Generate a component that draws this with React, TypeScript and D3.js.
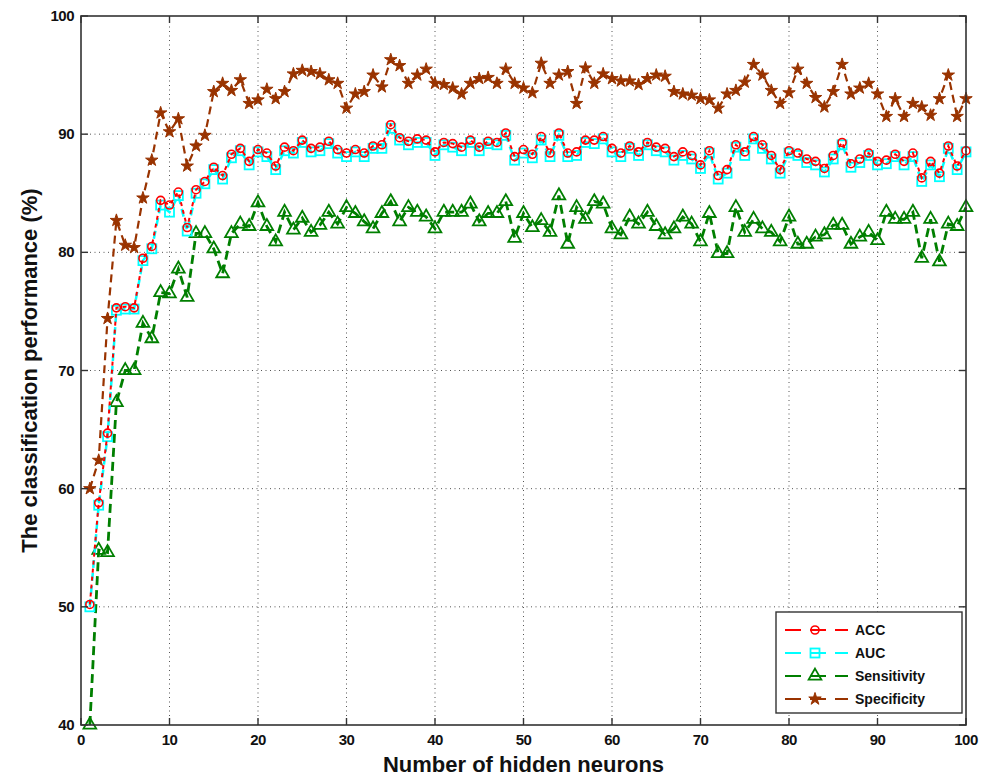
import React from 'react';
import * as d3 from 'd3';

const neurons = d3.range(1, 101);

const accValues = [
  50.2, 58.8, 64.7, 75.3, 75.4, 75.3, 79.5, 80.5, 84.4, 84.0,
  85.1, 82.1, 85.3, 86.0, 87.2, 86.5, 88.3, 88.8, 87.7, 88.7,
  88.4, 87.3, 88.9, 88.6, 89.5, 88.8, 88.9, 89.4, 88.7, 88.4,
  88.7, 88.4, 89.0, 89.1, 90.8, 89.7, 89.4, 89.6, 89.5, 88.5,
  89.3, 89.2, 88.9, 89.5, 88.9, 89.4, 89.3, 90.1, 88.1, 88.7,
  88.3, 89.8, 88.4, 90.1, 88.4, 88.5, 89.5, 89.5, 89.8, 88.8,
  88.4, 89.0, 88.5, 89.3, 88.9, 88.8, 88.1, 88.5, 88.2, 87.4,
  88.6, 86.5, 87.0, 89.1, 88.5, 89.8, 89.1, 88.2, 87.0, 88.6,
  88.4, 87.9, 87.7, 87.1, 88.2, 89.3, 87.5, 87.9, 88.4, 87.7,
  87.8, 88.3, 87.7, 88.4, 86.3, 87.7, 86.7, 89.0, 87.3, 88.6,
];

const aucValues = [
  50.0, 58.6, 64.4, 75.1, 75.2, 75.2, 79.3, 80.3, 84.0, 83.4,
  84.8, 81.8, 85.0, 85.8, 87.0, 86.2, 88.0, 88.6, 87.4, 88.5,
  88.1, 87.0, 88.6, 88.4, 89.3, 88.5, 88.6, 89.2, 88.4, 88.1,
  88.5, 88.1, 88.8, 88.8, 90.5, 89.5, 89.1, 89.3, 89.3, 88.2,
  89.1, 88.9, 88.6, 89.3, 88.6, 89.2, 89.1, 89.9, 87.8, 88.4,
  88.0, 89.5, 88.1, 89.9, 88.1, 88.2, 89.3, 89.2, 89.6, 88.5,
  88.1, 88.8, 88.2, 89.1, 88.6, 88.5, 87.8, 88.2, 87.9, 87.1,
  88.4, 86.2, 86.7, 88.9, 88.2, 89.6, 88.8, 87.9, 86.7, 88.4,
  88.2, 87.6, 87.4, 86.8, 87.9, 89.1, 87.2, 87.6, 88.2, 87.4,
  87.5, 88.1, 87.4, 88.1, 86.0, 87.4, 86.4, 88.8, 87.0, 88.5,
];

const sensitivityValues = [
  40.0, 54.8, 54.6, 67.3, 70.0, 70.0, 74.0, 72.7, 76.6, 76.5,
  78.6, 76.2, 81.6, 81.6, 80.3, 78.2, 81.6, 82.4, 82.2, 84.2,
  82.2, 80.9, 83.4, 81.9, 82.9, 81.7, 82.3, 83.4, 82.4, 83.8,
  83.3, 82.6, 82.0, 83.3, 84.3, 82.6, 83.8, 83.4, 83.0, 82.0,
  83.4, 83.4, 83.4, 84.1, 82.6, 83.3, 83.3, 84.3, 81.2, 83.3,
  82.1, 82.7, 81.7, 84.8, 80.7, 83.8, 82.8, 84.3, 84.1, 82.0,
  81.5, 83.0, 82.4, 83.4, 82.2, 81.5, 82.0, 83.0, 82.4, 80.9,
  83.3, 79.9, 79.9, 83.8, 81.7, 82.8, 82.0, 81.7, 80.9, 83.0,
  80.7, 80.7, 81.3, 81.5, 82.3, 82.3, 80.7, 81.3, 81.7, 81.0,
  83.4, 82.8, 82.8, 83.4, 79.5, 82.8, 79.2, 82.4, 82.2, 83.8,
];

const specificityValues = [
  60.0, 62.4, 74.4, 82.7, 80.6, 80.4, 84.6, 87.8, 91.8, 90.2,
  91.3, 87.3, 89.0, 89.9, 93.6, 94.3, 93.7, 94.6, 92.6, 92.9,
  93.8, 93.0, 93.6, 95.1, 95.4, 95.3, 95.1, 94.6, 94.3, 92.2,
  93.4, 93.6, 95.0, 94.0, 96.3, 95.8, 94.3, 95.0, 95.5, 94.3,
  94.2, 93.9, 93.4, 94.3, 94.7, 94.8, 94.3, 95.5, 94.3, 93.9,
  93.5, 96.0, 94.3, 95.0, 95.3, 92.6, 95.6, 94.3, 95.1, 94.7,
  94.5, 94.5, 94.2, 94.7, 95.0, 94.9, 93.6, 93.4, 93.3, 93.0,
  92.9, 92.2, 93.4, 93.7, 94.4, 95.9, 95.0, 93.7, 92.6, 93.5,
  95.5, 94.3, 93.1, 92.3, 93.6, 95.9, 93.4, 93.9, 94.3, 93.4,
  91.5, 93.0, 91.5, 92.6, 92.3, 91.6, 93.0, 95.0, 91.5, 93.0,
];

const xTicks = [0, 10, 20, 30, 40, 50, 60, 70, 80, 90, 100];
const yTicks = [40, 50, 60, 70, 80, 90, 100];

const seriesNames = ['ACC', 'AUC', 'Sensitivity', 'Specificity'];

const W = 988;
const H = 778;
const margin = { top: 16, right: 22, bottom: 53, left: 81 };
const FONT = "'Liberation Sans', Arial, sans-serif";

type Series = {
  name: string;
  values: number[];
  color: string;
  width: number;
  dash: string;
  marker: 'circle' | 'square' | 'triangle' | 'star';
};

const series: Series[] = [
  { name: seriesNames[3], values: specificityValues, color: '#993300', width: 2.2, dash: '8,5', marker: 'star' },
  { name: seriesNames[2], values: sensitivityValues, color: '#007f00', width: 2.8, dash: '9,5', marker: 'triangle' },
  { name: seriesNames[1], values: aucValues, color: '#00ffff', width: 2.5, dash: '8,5', marker: 'square' },
  { name: seriesNames[0], values: accValues, color: '#ff0000', width: 2, dash: '4,4', marker: 'circle' },
];

const Marker = ({ type, x, y, color }: { type: Series['marker']; x: number; y: number; color: string }) => {
  if (type === 'circle') {
    return <circle cx={x} cy={y} r={4} fill="none" stroke={color} strokeWidth={1.6} />;
  }
  if (type === 'square') {
    return <rect x={x - 4.5} y={y - 4.5} width={9} height={9} fill="none" stroke={color} strokeWidth={1.8} />;
  }
  if (type === 'triangle') {
    const p = d3.symbol().type(d3.symbolTriangle).size(70)();
    return <path d={p || ''} transform={`translate(${x},${y})`} fill="none" stroke={color} strokeWidth={1.8} />;
  }
  const p = d3.symbol().type(d3.symbolStar).size(48)();
  return <path d={p || ''} transform={`translate(${x},${y})`} fill={color} stroke={color} strokeWidth={1} />;
};

export default function App() {
  const innerW = W - margin.left - margin.right;
  const innerH = H - margin.top - margin.bottom;

  const x = d3.scaleLinear().domain([0, 100]).range([margin.left, margin.left + innerW]);
  const y = d3.scaleLinear().domain([40, 100]).range([margin.top + innerH, margin.top]);

  const line = d3.line<number>()
    .x((_, i) => x(neurons[i]))
    .y(d => y(d));

  const x0 = x(0), x1 = x(100), y0 = y(40), y1 = y(100);

  const legendX = 776, legendY = 612, legendW = 186, legendH = 101;
  const legendOrder = [series[3], series[2], series[1], series[0]];

  return (
    <svg width={W} height={H} style={{ position: 'absolute', left: 0, top: 0, background: '#fff' }}>
      {/* grid */}
      <g stroke="#555" strokeWidth={1} strokeDasharray="1,3.5">
        {xTicks.slice(1, -1).map(t => (
          <line key={'gx' + t} x1={x(t)} x2={x(t)} y1={y0} y2={y1} />
        ))}
        {yTicks.slice(1, -1).map(t => (
          <line key={'gy' + t} x1={x0} x2={x1} y1={y(t)} y2={y(t)} />
        ))}
      </g>

      {/* series */}
      {series.map(s => (
        <g key={s.name}>
          <path d={line(s.values) || ''} fill="none" stroke={s.color} strokeWidth={s.width} strokeDasharray={s.dash} />
          {s.values.map((v, i) => (
            <Marker key={i} type={s.marker} x={x(neurons[i])} y={y(v)} color={s.color} />
          ))}
        </g>
      ))}

      {/* frame and ticks */}
      <rect x={x0} y={y1} width={x1 - x0} height={y0 - y1} fill="none" stroke="#333" strokeWidth={1.6} />
      <g stroke="#333" strokeWidth={1.4}>
        {xTicks.map(t => (
          <g key={'tx' + t}>
            <line x1={x(t)} x2={x(t)} y1={y0} y2={y0 - 7} />
            <line x1={x(t)} x2={x(t)} y1={y1} y2={y1 + 7} />
          </g>
        ))}
        {yTicks.map(t => (
          <g key={'ty' + t}>
            <line x1={x0} x2={x0 + 7} y1={y(t)} y2={y(t)} />
            <line x1={x1} x2={x1 - 7} y1={y(t)} y2={y(t)} />
          </g>
        ))}
      </g>

      {/* tick labels */}
      <g fontFamily={FONT} fontWeight="bold" fontSize={15} fill="#111">
        {xTicks.map(t => (
          <text key={'lx' + t} x={x(t)} y={y0 + 20} textAnchor="middle" letterSpacing={-0.5}>{t}</text>
        ))}
        {yTicks.map(t => (
          <text key={'ly' + t} x={x0 - 7} y={y(t) + 5} textAnchor="end" letterSpacing={-0.5}>{t}</text>
        ))}
      </g>

      {/* axis titles */}
      <text x={(x0 + x1) / 2} y={772} textAnchor="middle" fontFamily={FONT}
        fontWeight="bold" fontSize={22} fill="#111">Number of hidden neurons</text>
      <text transform={`translate(37,${(y0 + y1) / 2}) rotate(-90)`} textAnchor="middle"
        fontFamily={FONT} fontWeight="bold" fontSize={22} fill="#111">
        The classification performance (%)
      </text>

      {/* legend */}
      <rect x={legendX} y={legendY} width={legendW} height={legendH} fill="#fff" stroke="#333" strokeWidth={1.4} />
      {legendOrder.map((s, i) => {
        const ly = legendY + 18 + i * 23;
        return (
          <g key={'lg' + s.name}>
            <line x1={legendX + 9} x2={legendX + 72} y1={ly} y2={ly} stroke={s.color} strokeWidth={2.2} strokeDasharray="16,9" />
            <Marker type={s.marker} x={legendX + 39} y={ly} color={s.color} />
            <text x={legendX + 79} y={ly + 5} fontFamily={FONT} fontWeight="bold"
              fontSize={14} fill="#111">{s.name}</text>
          </g>
        );
      })}
    </svg>
  );
}
